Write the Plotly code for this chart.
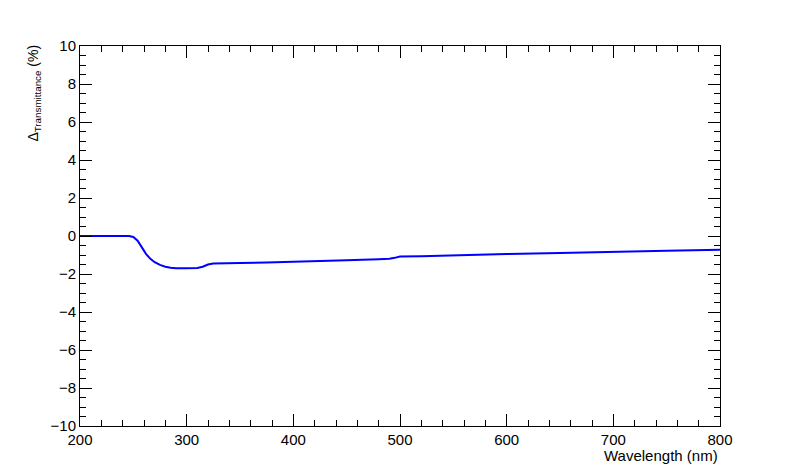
import plotly.graph_objects as go

wavelength = [200, 220, 240, 246, 250, 254, 258, 262, 266, 270, 275, 280, 285, 290, 300, 310, 315, 320, 325, 335, 350, 375, 400, 420, 450, 480, 490, 495, 500, 520, 550, 575, 600, 650, 700, 750, 800]
delta_t = [0, 0, 0, 0, -0.05, -0.25, -0.6, -0.95, -1.2, -1.38, -1.52, -1.62, -1.67, -1.7, -1.7, -1.68, -1.62, -1.5, -1.45, -1.43, -1.42, -1.4, -1.37, -1.33, -1.28, -1.22, -1.2, -1.15, -1.08, -1.07, -1.02, -0.98, -0.95, -0.9, -0.82, -0.77, -0.72]

fig = go.Figure(go.Scatter(x=wavelength, y=delta_t, mode="lines",
                           line=dict(color="#0000ff", width=2)))
ax = dict(showline=True, linecolor="black", linewidth=1, mirror="allticks",
          ticks="inside", tickcolor="black", ticklen=12, showgrid=False, zeroline=False,
          tickfont=dict(family="Liberation Sans, Arial", size=15, color="black"))
fig.update_xaxes(range=[200, 800], dtick=100, tick0=200,
                 minor=dict(dtick=20, ticks="inside", ticklen=6, tickcolor="black"), **ax)
fig.update_yaxes(range=[-10, 10], dtick=2, tick0=-10,
                 minor=dict(dtick=0.5, ticks="inside", ticklen=6, tickcolor="black"), **ax)
fig.update_layout(width=800, height=475, plot_bgcolor="white", paper_bgcolor="white",
                  margin=dict(l=72, r=88, t=38, b=57), showlegend=False,
                  annotations=[
                      dict(text="Wavelength (nm)", xref="paper", yref="paper", x=1, y=-0.05,
                           xanchor="right", yanchor="top", showarrow=False,
                           font=dict(family="Liberation Sans, Arial", size=15, color="black")),
                      dict(text="Δ<sub>Transmittance</sub> (%)", xref="paper", yref="paper",
                           x=-0.072, y=1.01, xanchor="center", yanchor="top", textangle=-90,
                           showarrow=False,
                           font=dict(family="Liberation Sans, Arial", size=14, color="black")),
                  ])
fig.write_html("out.html")
